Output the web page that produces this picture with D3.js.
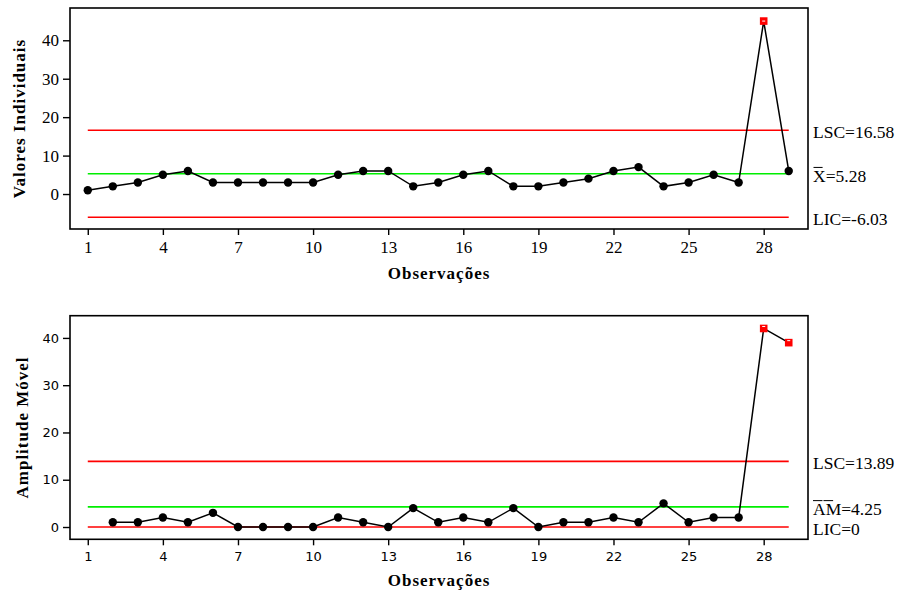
<!DOCTYPE html>
<html>
<head>
<meta charset="utf-8">
<script src="https://cdn.jsdelivr.net/npm/d3@7/dist/d3.min.js"></script>
<style>
  html, body { margin: 0; padding: 0; background: #fff; }
  svg { display: block; }
</style>
</head>
<body>
<svg id="chart" width="901" height="592"></svg>
<script>
// ---- Data ----
const observations = [1,2,3,4,5,6,7,8,9,10,11,12,13,14,15,16,17,18,19,20,21,22,23,24,25,26,27,28,29];
const individualValues = [1,2,3,5,6,3,3,3,3,3,5,6,6,2,3,5,6,2,2,3,4,6,7,2,3,5,3,45,6];
const mrObservations = [2,3,4,5,6,7,8,9,10,11,12,13,14,15,16,17,18,19,20,21,22,23,24,25,26,27,28,29];
const movingRanges = [1,1,2,1,3,0,0,0,0,2,1,0,4,1,2,1,4,0,1,1,2,1,5,1,2,2,42,39];
const xTickValues = [1,4,7,10,13,16,19,22,25,28];
const yTickValuesTop = [0,10,20,30,40];
const yTickValuesBottom = [0,10,20,30,40];
const limitsTop = { lsc: 16.58, center: 5.28, lic: -6.03 };
const limitsBottom = { lsc: 13.89, center: 4.25, lic: 0 };
const labelsTop = ["LSC=16.58", "X=5.28", "LIC=-6.03"];
const labelsBottom = ["LSC=13.89", "AM=4.25", "LIC=0"];
const titleTopY = "Valores Individuais";
const titleBottomY = "Amplitude Móvel";
const titleX = "Observações";

// ---- Layout ----
const svg = d3.select("#chart");
const SERIF = "Liberation Serif, serif";
const SANS = "DejaVu Sans, sans-serif";
const left = 70, right = 808;

const x = d3.scaleLinear().domain([0.29, 29.77]).range([left, right]);

function panel(cfg) {
  const g = svg.append("g");
  const y = d3.scaleLinear().domain(cfg.yDomain).range([cfg.bottom, cfg.top]);

  const lines = [
    { v: cfg.limits.lsc, c: "#ff0000" },
    { v: cfg.limits.center, c: "#00ee00" },
    { v: cfg.limits.lic, c: "#ff0000" }
  ];
  g.selectAll("line.ctl").data(lines).enter().append("line")
    .attr("class", "ctl")
    .attr("x1", x(observations[0])).attr("x2", x(observations[observations.length - 1]))
    .attr("y1", d => y(d.v)).attr("y2", d => y(d.v))
    .attr("stroke", d => d.c).attr("stroke-width", 1.6);

  const pts = cfg.xs.map((o, i) => ({ o, v: cfg.vals[i] }));
  g.append("path").datum(pts)
    .attr("d", d3.line().x(d => x(d.o)).y(d => y(d.v)))
    .attr("fill", "none").attr("stroke", "#000").attr("stroke-width", 1.5);

  const inCtl = pts.filter(d => d.v <= cfg.limits.lsc && d.v >= cfg.limits.lic);
  const outCtl = pts.filter(d => d.v > cfg.limits.lsc || d.v < cfg.limits.lic);
  g.selectAll("circle.pt").data(inCtl).enter().append("circle")
    .attr("cx", d => x(d.o)).attr("cy", d => y(d.v)).attr("r", 4.2).attr("fill", "#000");
  g.selectAll("rect.out").data(outCtl).enter().append("rect")
    .attr("x", d => x(d.o) - 3.8).attr("y", d => y(d.v) - 3.8)
    .attr("width", 7.6).attr("height", 7.6).attr("fill", "#ff0000");
  g.selectAll("rect.outdash").data(outCtl).enter().append("rect")
    .attr("x", d => x(d.o) - 1.5).attr("y", d => y(d.v) - (cfg.dashTop ? 2.5 : 0.5))
    .attr("width", 3).attr("height", 1).attr("fill", "#fff");

  const yAxis = d3.axisLeft(y).tickValues(cfg.yTicks).tickSize(7).tickPadding(4).tickFormat(d3.format("d"));
  const ya = g.append("g").attr("transform", `translate(${left},0)`).call(yAxis)
    .attr("font-family", cfg.tickFont).attr("font-size", cfg.tickSize);
  const xAxis = d3.axisBottom(x).tickValues(xTickValues).tickSize(6).tickPadding(cfg.xPad).tickFormat(d3.format("d"));
  const xa = g.append("g").attr("transform", `translate(0,${cfg.bottom})`).call(xAxis)
    .attr("font-family", cfg.tickFont).attr("font-size", cfg.tickSize);
  [ya, xa].forEach(a => {
    a.select(".domain").remove();
    a.selectAll(".tick line").attr("stroke", "#000").attr("stroke-width", 1.4);
    a.selectAll(".tick text").attr("fill", "#000");
  });

  g.append("rect").attr("x", left).attr("y", cfg.top)
    .attr("width", right - left).attr("height", cfg.bottom - cfg.top)
    .attr("fill", "none").attr("stroke", "#000").attr("stroke-width", 1.6);

  const vals = [cfg.limits.lsc, cfg.limits.center, cfg.limits.lic];
  const texts = g.selectAll("text.lim").data(cfg.labels).enter().append("text")
    .attr("class", "lim")
    .attr("x", right + 5).attr("y", (d, i) => y(vals[i]) + 8)
    .attr("font-family", SERIF).attr("font-size", 17.5).attr("fill", "#000")
    .text(d => d);
  const cNode = texts.nodes()[1];
  const by = y(vals[1]) + 8 - 14.3;
  if (cfg.barChars === 1) {
    const w = cNode.getSubStringLength(0, 1);
    g.append("line").attr("x1", right + 5.5).attr("x2", right + 5.5 + w * 0.72)
      .attr("y1", by).attr("y2", by).attr("stroke", "#000").attr("stroke-width", 1);
  } else {
    const wA = cNode.getSubStringLength(0, 1), wM = cNode.getSubStringLength(1, 1);
    g.append("line").attr("x1", right + 5).attr("x2", right + 5 + wA * 0.75)
      .attr("y1", by).attr("y2", by).attr("stroke", "#000").attr("stroke-width", 1);
    g.append("line").attr("x1", right + 6 + wA * 0.75).attr("x2", right + 6 + wA * 0.75 + wM * 0.62)
      .attr("y1", by).attr("y2", by).attr("stroke", "#000").attr("stroke-width", 1);
  }

  g.append("text")
    .attr("transform", `translate(${cfg.yTitleX},${(cfg.top + cfg.bottom) / 2}) rotate(-90)`)
    .attr("text-anchor", "middle")
    .attr("font-family", SERIF).attr("font-size", 17).attr("font-weight", "bold")
    .style("letter-spacing", "1px").attr("fill", "#000")
    .text(cfg.yTitle);
  g.append("text")
    .attr("x", (left + right) / 2).attr("y", cfg.xTitleY)
    .attr("text-anchor", "middle")
    .attr("font-family", SERIF).attr("font-size", 17).attr("font-weight", "bold")
    .style("letter-spacing", "1px").attr("fill", "#000")
    .text(titleX);
}

panel({
  top: 8, bottom: 229, yDomain: [-9.1, 48.4],
  xs: observations, vals: individualValues, limits: limitsTop,
  yTicks: yTickValuesTop, labels: labelsTop, barChars: 1,
  tickFont: SERIF, tickSize: 17, xPad: 6,
  yTitle: titleTopY, yTitleX: 25, xTitleY: 279, dashTop: false
});
panel({
  top: 315.7, bottom: 539.3, yDomain: [-2.6, 44.7],
  xs: mrObservations, vals: movingRanges, limits: limitsBottom,
  yTicks: yTickValuesBottom, labels: labelsBottom, barChars: 2,
  tickFont: SANS, tickSize: 13, xPad: 6,
  yTitle: titleBottomY, yTitleX: 28, xTitleY: 586, dashTop: true
});
</script>
</body>
</html>
